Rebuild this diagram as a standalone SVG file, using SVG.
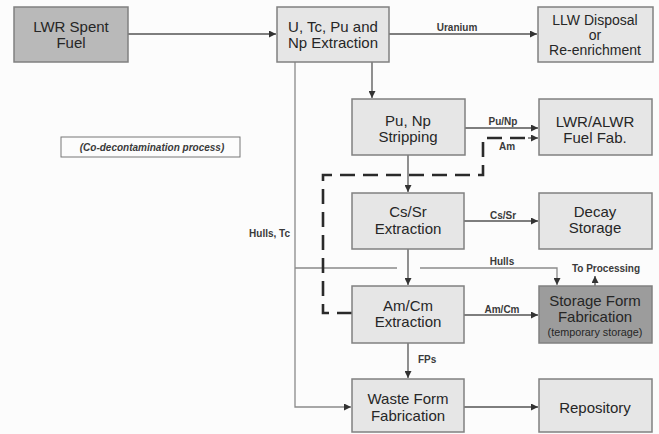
<svg xmlns="http://www.w3.org/2000/svg" width="659" height="434" viewBox="0 0 659 434">
<defs>
<marker id="ah" viewBox="0 0 10 10" refX="10" refY="5" markerWidth="7" markerHeight="7" markerUnits="userSpaceOnUse" orient="auto">
<path d="M0,0 L10,5 L0,10 z" fill="#333"/>
</marker>
</defs>
<style>
.box{stroke:#808080;stroke-width:1.5}
.lt{fill:#e6e6e6}
.dk{fill:#b9b9b9}
.dk2{fill:#9c9c9c}
.t{font-family:"Liberation Sans",Arial,sans-serif;font-size:15px;fill:#262626;text-anchor:middle}
.s{font-family:"Liberation Sans",Arial,sans-serif;font-size:10px;font-weight:bold;fill:#3a3a3a;text-anchor:middle}
.ln{stroke:#555;stroke-width:1.3;fill:none}
.lg{stroke:#8a8a8a;stroke-width:1.3;fill:none}
.ds{stroke:#2a2a2a;stroke-width:2.6;fill:none;stroke-dasharray:15 8}
</style>
<rect width="659" height="434" fill="#fcfcfc"/>
<g id="connectors">
<line class="ln" x1="128" y1="34" x2="276" y2="34" marker-end="url(#ah)"/>
<line class="ln" x1="389" y1="34" x2="537" y2="34" marker-end="url(#ah)"/>
<line class="ln" x1="372" y1="62" x2="372" y2="98" marker-end="url(#ah)"/>
<line class="ln" x1="465" y1="128" x2="538" y2="128" marker-end="url(#ah)"/>
<line class="ln" x1="408" y1="155" x2="408" y2="192" marker-end="url(#ah)"/>
<line class="ln" x1="464" y1="221" x2="538" y2="221" marker-end="url(#ah)"/>
<line class="ln" x1="408" y1="249" x2="408" y2="285" marker-end="url(#ah)"/>
<line class="ln" x1="464" y1="315" x2="538" y2="315" marker-end="url(#ah)"/>
<line class="ln" x1="408" y1="343" x2="408" y2="378" marker-end="url(#ah)"/>
<line class="ln" x1="464" y1="407" x2="538" y2="407" marker-end="url(#ah)"/>
<polyline class="lg" points="295,62 295,407 351,407" marker-end="url(#ah)"/>
<line class="lg" x1="295" y1="268" x2="397" y2="268"/>
<polyline class="lg" points="420,268 557,268 557,285" marker-end="url(#ah)"/>
<line class="ln" x1="595" y1="286" x2="595" y2="276" marker-end="url(#ah)"/>
<polyline class="ds" points="352,313 323,313 323,175 483,175 483,138 530,138"/>
<line class="ln" x1="528" y1="138" x2="538" y2="138" marker-end="url(#ah)"/>
<text class="s" x="457" y="31">Uranium</text>
<text class="s" x="503" y="125">Pu/Np</text>
<text class="s" x="507" y="150">Am</text>
<text class="s" x="503" y="219">Cs/Sr</text>
<text class="s" x="502" y="265">Hulls</text>
<text class="s" x="606" y="272">To Processing</text>
<text class="s" x="502" y="313">Am/Cm</text>
<text class="s" x="418" y="363" style="text-anchor:start">FPs</text>
<text class="s" x="290" y="237" style="text-anchor:end">Hulls, Tc</text>
</g>
<g id="lwr-spent-fuel">
<rect class="box dk" x="14" y="7" width="114" height="55"/>
<text class="t" x="71" y="32">LWR Spent</text>
<text class="t" x="71" y="48">Fuel</text>
</g>
<g id="u-extraction">
<rect class="box lt" x="277" y="7" width="112" height="55"/>
<text class="t" x="333" y="32">U, Tc, Pu and</text>
<text class="t" x="333" y="48">Np Extraction</text>
</g>
<g id="llw-disposal">
<rect class="box lt" x="538" y="7" width="115" height="55"/>
<text class="t" x="595" y="25" style="font-size:14px">LLW Disposal</text>
<text class="t" x="595" y="40" style="font-size:14px">or</text>
<text class="t" x="595" y="55" style="font-size:14px">Re-enrichment</text>
</g>
<g id="co-decon">
<rect x="61" y="137" width="179" height="20" fill="#fcfcfc" stroke="#777" stroke-width="1"/>
<text x="152" y="151" style="font-family:'Liberation Sans',Arial,sans-serif;font-size:10px;font-weight:bold;font-style:italic;fill:#3a3a3a;text-anchor:middle">(Co-decontamination process)</text>
</g>
<g id="pu-np-stripping">
<rect class="box lt" x="352" y="99" width="113" height="56"/>
<text class="t" x="408" y="126">Pu, Np</text>
<text class="t" x="408" y="142">Stripping</text>
</g>
<g id="lwr-alwr">
<rect class="box lt" x="539" y="99" width="113" height="56"/>
<text class="t" x="595" y="127">LWR/ALWR</text>
<text class="t" x="595" y="143">Fuel Fab.</text>
</g>
<g id="cs-sr-extraction">
<rect class="box lt" x="352" y="193" width="112" height="56"/>
<text class="t" x="408" y="217">Cs/Sr</text>
<text class="t" x="408" y="234">Extraction</text>
</g>
<g id="decay-storage">
<rect class="box lt" x="539" y="193" width="113" height="56"/>
<text class="t" x="595" y="217">Decay</text>
<text class="t" x="595" y="233">Storage</text>
</g>
<g id="am-cm-extraction">
<rect class="box lt" x="352" y="286" width="112" height="57"/>
<text class="t" x="408" y="311">Am/Cm</text>
<text class="t" x="408" y="327">Extraction</text>
</g>
<g id="storage-form">
<rect class="box dk2" x="539" y="286" width="113" height="57"/>
<text class="t" x="595" y="306">Storage Form</text>
<text class="t" x="595" y="322">Fabrication</text>
<text class="t" x="595" y="336" style="font-size:10.8px">(temporary storage)</text>
</g>
<g id="waste-form">
<rect class="box lt" x="352" y="379" width="112" height="53"/>
<text class="t" x="408" y="404">Waste Form</text>
<text class="t" x="408" y="421">Fabrication</text>
</g>
<g id="repository">
<rect class="box lt" x="539" y="379" width="113" height="53"/>
<text class="t" x="595" y="413">Repository</text>
</g>
</svg>
